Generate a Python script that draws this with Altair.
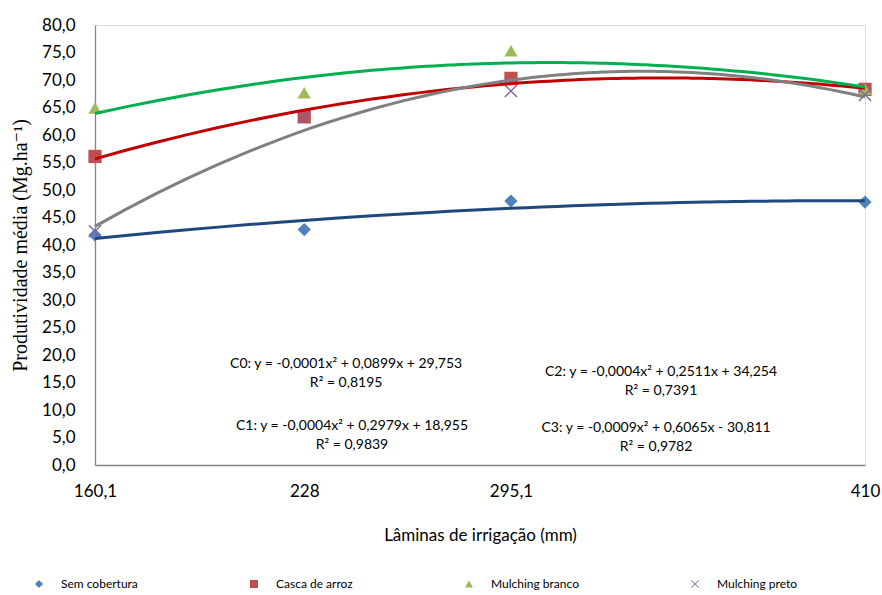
import altair as alt
import pandas as pd

# ---- data ----
laminas = [160.1, 228, 295.1, 410]
series = ["Sem cobertura", "Casca de arroz", "Mulching branco", "Mulching preto"]
sem_cobertura = [41.8, 42.8, 48.0, 47.8]
casca_arroz = [56.1, 63.3, 70.3, 68.3]
mulching_branco = [64.9, 67.7, 75.3, 68.3]
mulching_preto = [42.5, 63.3, 68.0, 67.3]

y_ticks = list(range(0, 81, 5))

eq_text = [
    "C0: y = -0,0001x² + 0,0899x + 29,753\nR² = 0,8195",
    "C1: y = -0,0004x² + 0,2979x + 18,955\nR² = 0,9839",
    "C2: y = -0,0004x² + 0,2511x + 34,254\nR² = 0,7391",
    "C3: y = -0,0009x² + 0,6065x - 30,811\nR² = 0,9782",
]
eq_x = [241.6, 243.5, 343.8, 342.2]
eq_y = [18.4, 7.1, 16.9, 6.7]

# ---- styles ----
marker_colors = ["#4F81BD", "#C0504D", "#9BBB59", "#8064A2"]
line_colors = ["#1F497D", "#C00000", "#00B050", "#808080"]
x_path = ("M-1,-0.85L-0.85,-1L0,-0.15L0.85,-1L1,-0.85L0.15,0L1,0.85L0.85,1"
          "L0,0.15L-0.85,1L-1,0.85L-0.15,0Z")
shapes = ["diamond", "square", "triangle-up", x_path]

rows = []
for name, vals in zip(series, [sem_cobertura, casca_arroz, mulching_branco, mulching_preto]):
    for xv, yv in zip(laminas, vals):
        rows.append({"serie": name, "lamina": xv, "prod": yv})
df = pd.DataFrame(rows)
eq_df = pd.DataFrame({"txt": eq_text, "lamina": eq_x, "prod": eq_y})

FONT = "Lato"
SERIF = "'Liberation Serif', 'DejaVu Serif', serif"

x_scale = alt.Scale(domain=[160.1, 410], nice=False, zero=False)
y_scale = alt.Scale(domain=[0, 80], nice=False)

x_axis = alt.Axis(
    values=laminas, labelExpr="replace(toString(datum.value), '.', ',')",
    title="Lâminas de irrigação (mm)", titleFont=FONT, titleFontSize=17,
    titleFontWeight="normal", titleColor="black", titleY=70, titleBaseline="middle",
    labelFont=FONT, labelFontSize=17, labelColor="black", labelPadding=18,
    labelFlush=False, labelOverlap=False, ticks=False, grid=False,
    domainColor="#868686", domainWidth=1.3,
)
y_axis = alt.Axis(
    values=y_ticks, tickCount=17,
    labelExpr="replace(format(datum.value, '.1f'), '.', ',')",
    title="Produtividade média (Mg.ha⁻¹)", titleFont=SERIF,
    titleFontSize=20, titleFontWeight="normal", titleColor="black",
    titleAngle=-90, titleX=-75, titleY=220, titleAlign="center",
    titleBaseline="middle",
    labelFont=FONT, labelFontSize=17, labelColor="black", labelPadding=20,
    labelOverlap=False, ticks=False, grid=False,
    domainColor="#868686", domainWidth=1.3,
)

x_enc = alt.X("lamina:Q", scale=x_scale, axis=x_axis)
y_enc = alt.Y("prod:Q", scale=y_scale, axis=y_axis)

points = alt.Chart(df).mark_point(filled=True, opacity=1, size=175, strokeWidth=0).encode(
    x=x_enc,
    y=y_enc,
    fill=alt.Fill(
        "serie:N", scale=alt.Scale(domain=series, range=marker_colors),
        legend=alt.Legend(
            title=None, orient="none", direction="horizontal", columns=4,
            legendX=-62, legendY=553, columnPadding=110, labelOffset=16,
            labelFont=FONT, labelFontSize=12, labelColor="black",
            symbolSize=64, symbolStrokeWidth=0, gridAlign="none",
        ),
    ),
    shape=alt.Shape("serie:N", scale=alt.Scale(domain=series, range=shapes)),
)

lines = alt.Chart(df).transform_regression(
    "lamina", "prod", groupby=["serie"], method="poly", order=2, extent=[160.1, 410]
).mark_line(strokeWidth=3).encode(
    x=x_enc,
    y=y_enc,
    stroke=alt.Stroke("serie:N", scale=alt.Scale(domain=series, range=line_colors), legend=None),
)

eqs = alt.Chart(eq_df).mark_text(
    font=FONT, fontSize=14, color="black", align="center", baseline="middle",
    lineBreak="\n", lineHeight=19,
).encode(x=x_enc, y=y_enc, text="txt:N")

chart = alt.layer(points, lines, eqs).properties(
    width=770, height=440,
    autosize=alt.AutoSizeParams(type="none"),
    padding={"left": 95, "top": 25, "right": 17, "bottom": 130},
).configure_view(stroke=None).configure(background="white")

chart.save("out.html", embed_options={"renderer": "svg", "actions": False})
